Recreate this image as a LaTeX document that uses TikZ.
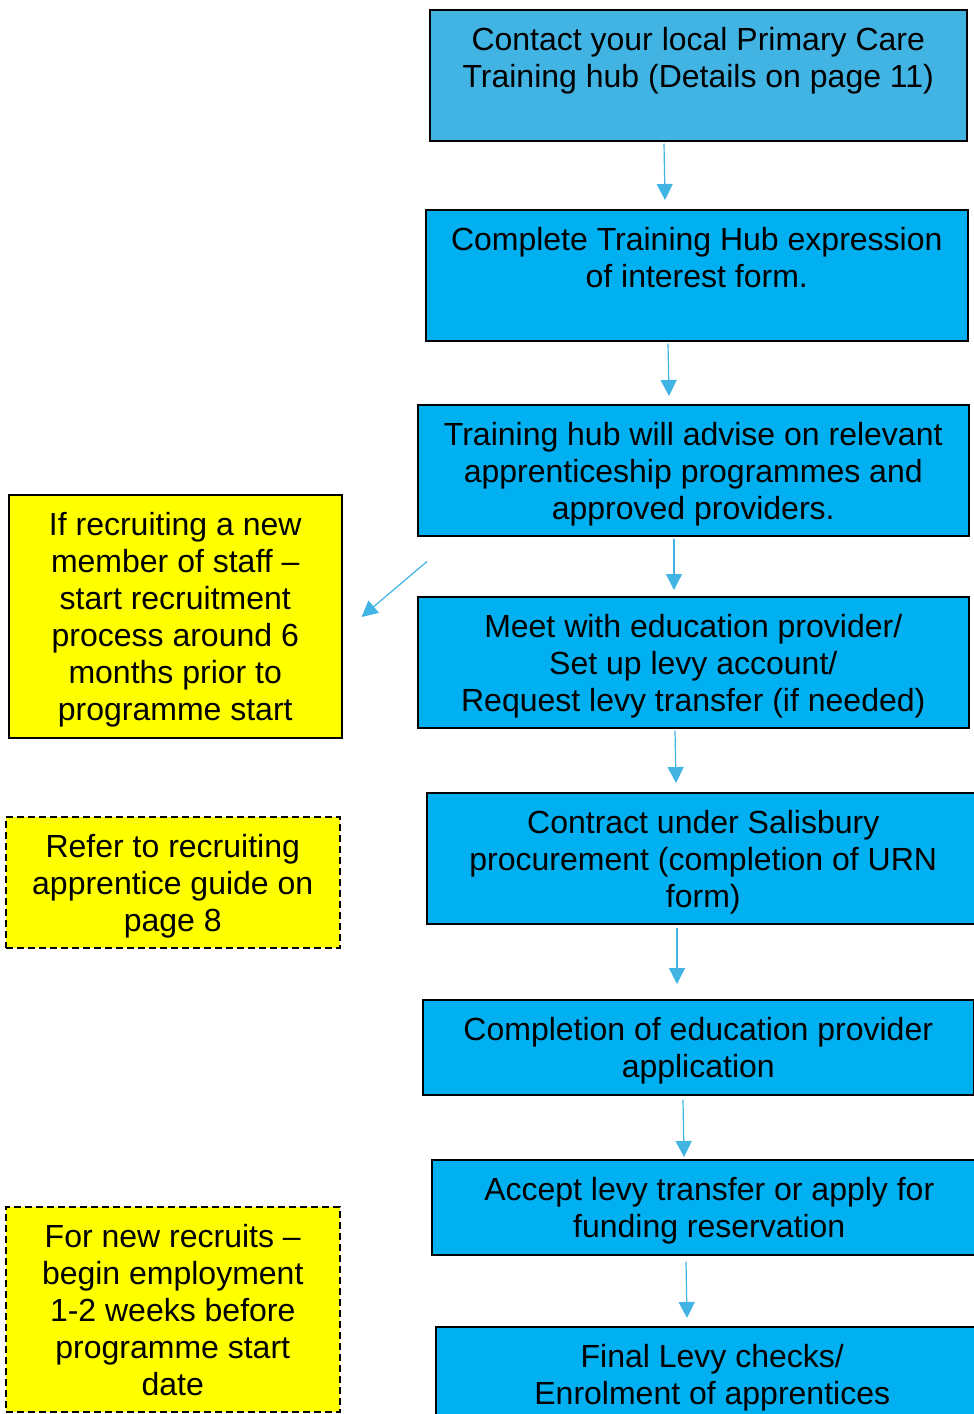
\documentclass[tikz,border=0pt]{standalone}
\usepackage{fontspec}
\setmainfont{Liberation Sans}
\usetikzlibrary{arrows.meta,calc}
\definecolor{hubblue}{HTML}{41B4E4}
\definecolor{stepblue}{HTML}{00B0F0}
\definecolor{noteyellow}{HTML}{FFFF00}
\newcommand{\bxtext}[3]{\parbox[c][#2pt][t]{#1pt}{\centering\vspace*{15pt}\strut #3}}
\begin{document}
\begin{tikzpicture}[x=1pt,y=-1pt,
  every node/.style={font=\fontsize{32}{37}\selectfont},
  stepbox/.style={draw=black, line width=1.5pt, fill=stepblue, inner sep=0pt, anchor=north west},
  notebox/.style={draw=black, line width=1.5pt, fill=noteyellow, inner sep=0pt, anchor=north west},
  dashednote/.style={notebox, dash pattern=on 7pt off 4pt},
  arr/.style={draw=hubblue, line width=1.2pt, -{Triangle[width=16pt,length=16pt]}}]
\useasboundingbox (0,0) rectangle (974,1414);
\clip (0,0) rectangle (974,1414);
\fill[white] (0,0) rectangle (974,1414);

\node[stepbox, fill=hubblue] (b1) at (429,9) {\bxtext{537}{131}{Contact your local Primary Care\\Training hub (Details on page 11)}};
\node[stepbox] (b2) at (425,209) {\bxtext{542}{131}{Complete Training Hub expression\\of interest form.}};
\node[stepbox] (b3) at (417,404) {\bxtext{551}{131}{Training hub will advise on relevant\\apprenticeship programmes and\\approved providers.}};
\node[stepbox] (b4) at (417,596) {\bxtext{551}{131}{Meet with education provider/\\Set up levy account/\\Request levy transfer (if needed)}};
\node[stepbox] (b5) at (426,792) {\bxtext{553}{131}{Contract under Salisbury\\procurement (completion of URN\\form)}};
\node[stepbox] (b6) at (422,999) {\bxtext{551}{95}{Completion of education provider\\application}};
\node[stepbox] (b7) at (431,1159) {\bxtext{555}{95}{Accept levy transfer or apply for\\funding reservation}};
\node[stepbox] (b8) at (435,1326) {\bxtext{553}{131}{Final Levy checks/\\Enrolment of apprentices}};

\node[notebox] (y1) at (8,494) {\bxtext{333}{243}{If recruiting a new\\member of staff --\\start recruitment\\process around 6\\months prior to\\programme start}};
\node[dashednote] (y2) at (5,816) {\bxtext{334}{131}{Refer to recruiting\\apprentice guide on\\page 8}};
\node[dashednote] (y3) at (5,1206) {\bxtext{334}{205}{For new recruits --\\begin employment\\1-2 weeks before\\programme start\\date}};

\draw[arr] ($(b1.south west)+(235,2)$) -- ($(b2.north west)+(240,-9)$);
\draw[arr] ($(b2.south west)+(243,2)$) -- ($(b3.north west)+(252,-8)$);
\draw[arr] ($(b3.south west)+(257,2)$) -- ($(b4.north west)+(257,-6)$);
\draw[arr] ($(b4.south west)+(258,2)$) -- ($(b5.north west)+(250,-9)$);
\draw[arr] ($(b5.south west)+(251,3)$) -- ($(b6.north west)+(255,-15)$);
\draw[arr] ($(b6.south west)+(261,4)$) -- ($(b7.north west)+(253,-2)$);
\draw[arr] ($(b7.south west)+(255,6)$) -- ($(b8.north west)+(252,-8)$);
\draw[arr] ($(b3.south west)+(10,25)$) -- ($(y1.north east)+(19,123)$);
\end{tikzpicture}
\end{document}
